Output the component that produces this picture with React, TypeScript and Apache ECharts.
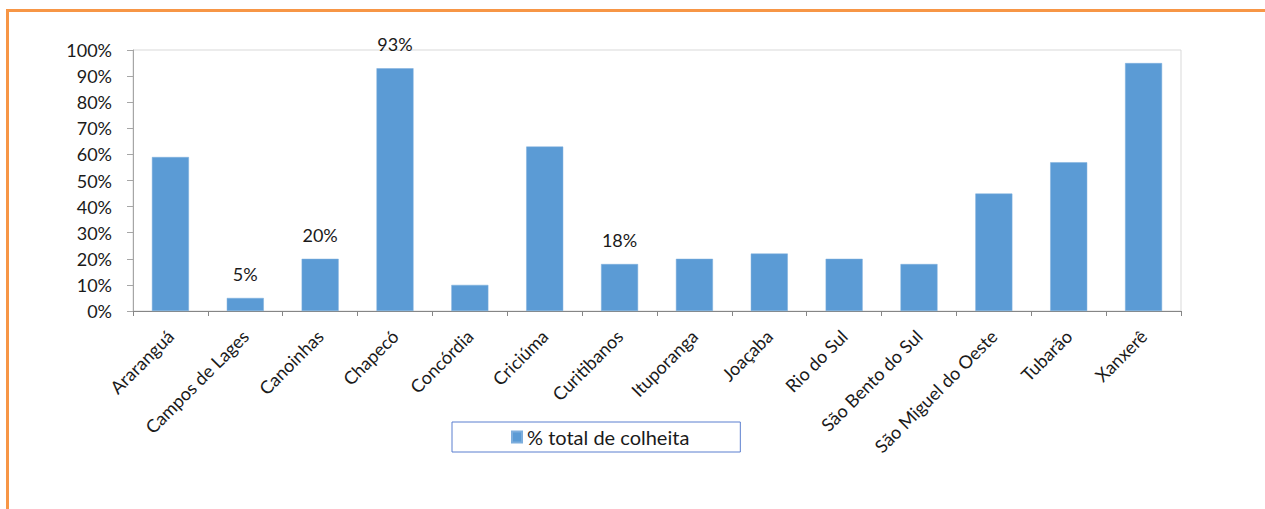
import React, { useEffect, useRef } from "react";
import * as echarts from "echarts";

const categories = [
  "Araranguá",
  "Campos de Lages",
  "Canoinhas",
  "Chapecó",
  "Concórdia",
  "Criciúma",
  "Curitibanos",
  "Ituporanga",
  "Joaçaba",
  "Rio do Sul",
  "São Bento do Sul",
  "São Miguel do Oeste",
  "Tubarão",
  "Xanxerê",
];
const values = [59, 5, 20, 93, 10, 63, 18, 20, 22, 20, 18, 45, 57, 95];
const labelledCategories = ["Campos de Lages", "Canoinhas", "Chapecó", "Curitibanos"];
const seriesName = "% total de colheita";
const yTicks = [0, 10, 20, 30, 40, 50, 60, 70, 80, 90, 100];

const FONT = "Lato";

export default function App() {
  const ref = useRef<HTMLDivElement>(null);
  useEffect(() => {
    document.body.style.margin = "0";
    if (!ref.current) return;
    const chart = echarts.init(ref.current, undefined, { renderer: "svg" });
    const data = values.map((v, i) => ({
      value: v,
      label: { show: labelledCategories.includes(categories[i]) },
    }));
    chart.setOption({
      animation: false,
      backgroundColor: "#ffffff",
      textStyle: { fontFamily: FONT },
      graphic: [
        {
          type: "line",
          shape: { x1: 6, y1: 10.5, x2: 1265, y2: 10.5 },
          style: { stroke: "#F79646", lineWidth: 3 },
        },
        {
          type: "line",
          shape: { x1: 7.5, y1: 9, x2: 7.5, y2: 509 },
          style: { stroke: "#F79646", lineWidth: 3 },
        },
      ],
      grid: {
        left: 133,
        right: 84,
        top: 50,
        bottom: 198,
        show: true,
        borderColor: "#d9d9d9",
        borderWidth: 1,
        containLabel: false,
      },
      legend: {
        data: [seriesName],
        left: 452,
        top: 422,
        padding: [5, 51, 5, 59],
        borderColor: "#5B7FCF",
        borderWidth: 1,
        itemWidth: 10,
        itemHeight: 11,
        itemGap: 5,
        icon: "rect",
        textStyle: { fontFamily: FONT, fontSize: 20, color: "#1a1a1a", lineHeight: 20 },
      },
      xAxis: {
        type: "category",
        data: categories,
        boundaryGap: true,
        axisLine: { show: true, lineStyle: { color: "#868686", width: 1 } },
        axisTick: { show: true, alignWithLabel: false, length: 5, lineStyle: { color: "#868686" } },
        axisLabel: {
          rotate: 45,
          interval: 0,
          margin: 22,
          fontFamily: FONT,
          fontSize: 18,
          color: "#1a1a1a",
        },
      },
      yAxis: {
        type: "value",
        min: 0,
        max: 100,
        interval: 10,
        splitLine: { show: false },
        axisLine: { show: true, lineStyle: { color: "#a6a6a6", width: 1 } },
        axisTick: { show: true, length: 6, lineStyle: { color: "#a6a6a6" } },
        axisLabel: {
          margin: 21,
          fontFamily: FONT,
          fontSize: 18,
          color: "#1a1a1a",
          formatter: (v: number) => (yTicks.includes(v) ? `${v}%` : ""),
        },
      },
      series: [
        {
          name: seriesName,
          type: "bar",
          data,
          barWidth: 37,
          itemStyle: { color: "#5B9BD5", borderColor: "#7DAEDD", borderWidth: 0.5 },
          label: {
            position: "top",
            distance: 15,
            formatter: "{c}%",
            fontFamily: FONT,
            fontSize: 18,
            color: "#1a1a1a",
          },
        },
      ],
    });
    return () => chart.dispose();
  }, []);
  return <div ref={ref} style={{ width: 1265, height: 509 }} />;
}
